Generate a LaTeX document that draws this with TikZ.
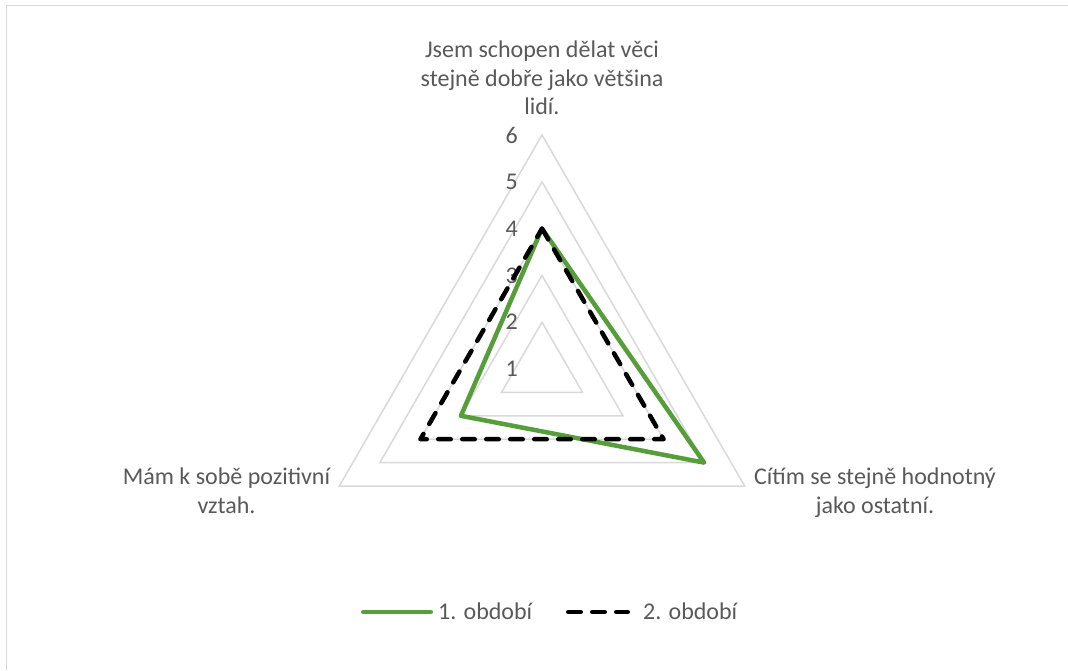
\documentclass[tikz,border=0pt]{standalone}
\usepackage{fontspec}
\setmainfont{Carlito}
\usetikzlibrary{calc}
\definecolor{gridgray}{RGB}{217,217,217}
\definecolor{txtgray}{RGB}{89,89,89}
\definecolor{sergreen}{RGB}{86,158,58}

\begin{document}
\begin{tikzpicture}[x=1pt, y=1pt,
 lbl/.style={text=txtgray, font=\fontsize{24}{28.5}\selectfont, inner sep=0},
 gridln/.style={gridgray, line width=1.5pt},
 serone/.style={sergreen, line width=4.5pt, line join=round, line cap=round},
 sertwo/.style={black, line width=4.5pt, line join=round, line cap=round, dash pattern=on 12.5pt off 11.5pt}]
\useasboundingbox (-542,-301) rectangle (526,369);
\def\u{46.8}
\draw[gridln] (-535.5,-301) -- (-535.5,363.5) -- (526,363.5);
\foreach \v [evaluate=\v as \r using \u*(\v-1)] in {2,...,6} {
 \draw[gridln] (90:\r) -- (-30:\r) -- (210:\r) -- cycle;
}
\foreach \v [evaluate=\v as \r using \u*(\v-1)] in {1,...,6} {
 \node[lbl, anchor=east] (tick\v) at (-24,\r) {\v};
}
% 1. obdobi
\coordinate (a1) at (90:{\u*3});
\coordinate (b1) at (-30:{\u*4});
\coordinate (c1) at (210:{\u*2});
\draw[serone] (a1) -- (b1) -- (c1) -- cycle;
% 2. obdobi
\coordinate (a2) at (90:{\u*3});
\coordinate (b2) at (-30:{\u*3});
\coordinate (c2) at (210:{\u*3});
\draw[sertwo] (a2) -- (b2) -- (c2) -- cycle;
% categories
\node[lbl, align=center, anchor=base] (qtop) at (0,254) {Jsem schopen dělat věci\\stejně dobře jako většina\\lidí.};
\node[lbl, align=center, anchor=base] (qleft) at (-315.5,-144) {Mám k sobě pozitivní\\vztah.};
\node[lbl, align=center, anchor=base] (qright) at (333,-144) {Cítím se stejně hodnotný\\jako ostatní.};
% legend
\coordinate (l1a) at (-178.75,-243);
\coordinate (l1b) at (-111.25,-243);
\draw[serone] (l1a) -- (l1b);
\node[lbl, anchor=base west] (t1) at (-104,-250) {1. období};
\coordinate (l2a) at (26.25,-243);
\coordinate (l2b) at (85.75,-243);
\draw[sertwo] (l2a) -- (l2b);
\node[lbl, anchor=base west] (t2) at (101,-250) {2. období};
\end{tikzpicture}
\end{document}
